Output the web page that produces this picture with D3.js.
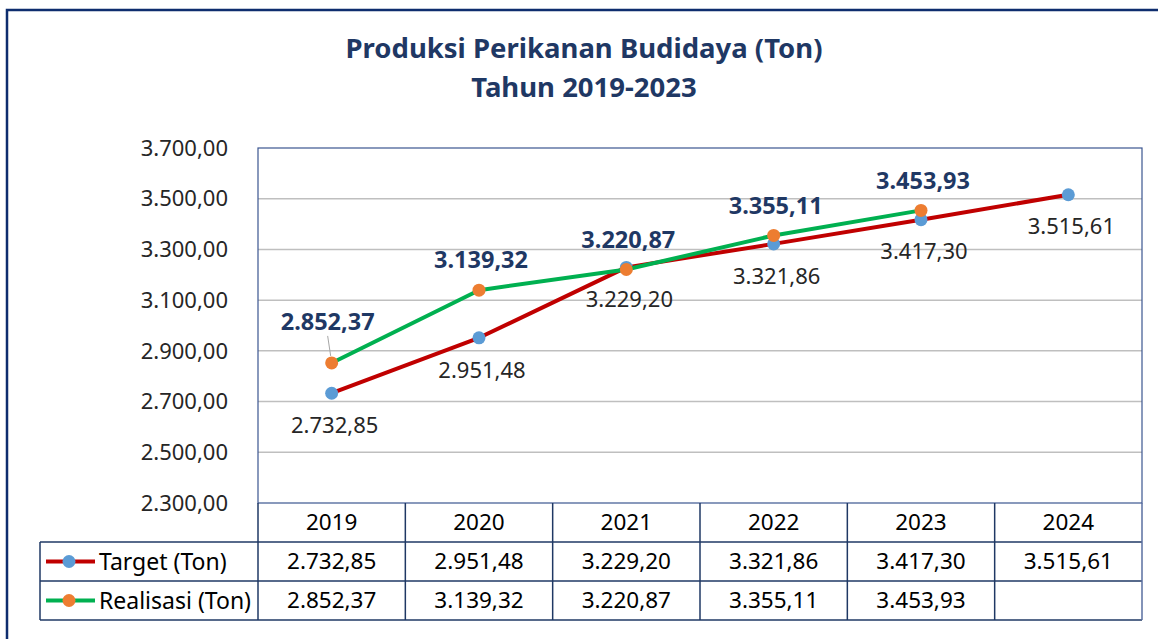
<!DOCTYPE html>
<html>
<head>
<meta charset="utf-8">
<script src="https://cdn.jsdelivr.net/npm/d3@7"></script>
<style>
  body { margin: 0; background: #fff; }
  svg { display: block; font-family: "Noto Sans", sans-serif; }
</style>
</head>
<body>
<svg id="chart"></svg>
<script>
const W = 1158, H = 639;

// data
const years = ["2019", "2020", "2021", "2022", "2023", "2024"];
const target = [2732.85, 2951.48, 3229.20, 3321.86, 3417.30, 3515.61];
const realisasi = [2852.37, 3139.32, 3220.87, 3355.11, 3453.93];
const yTicks = [2300, 2500, 2700, 2900, 3100, 3300, 3500, 3700];
const seriesNames = ["Target (Ton)", "Realisasi (Ton)"];
const titleLines = ["Produksi Perikanan Budidaya (Ton)", "Tahun 2019-2023"];

const navy = "#1f3864";
const textCol = "#262626";
const lineColors = ["#c00000", "#00b050"];
const markerColors = ["#5b9bd5", "#ed7d31"];

const idLocale = d3.formatLocale({ decimal: ",", thousands: ".", grouping: [3], currency: ["Rp", ""] });
const fmt = idLocale.format(",.2f");

const plot = { left: 258, right: 1142, top: 148, bottom: 503 };
const rowH = 39;

const svg = d3.select("#chart").attr("width", W).attr("height", H);

const x = d3.scaleBand().domain(years).range([plot.left, plot.right]);
const cx = d => x(d) + x.bandwidth() / 2;
const y = d3.scaleLinear().domain([2300, 3700]).range([plot.bottom, plot.top]);

// outer frame
svg.append("rect")
    .attr("x", 7).attr("y", 10)
    .attr("width", W + 20).attr("height", H + 20)
    .attr("fill", "none").attr("stroke", "#0e2d6e").attr("stroke-width", 2.5);

// title
svg.append("g").selectAll("text")
    .data(titleLines)
    .join("text")
    .attr("x", 584)
    .attr("y", (d, i) => 48 + i * 39)
    .attr("dy", "0.35em")
    .attr("text-anchor", "middle")
    .attr("font-size", 27.5)
    .attr("font-weight", "bold")
    .attr("fill", navy)
    .text(d => d);

// gridlines
svg.append("g").selectAll("line")
    .data(yTicks.slice(1, -1))
    .join("line")
    .attr("x1", plot.left).attr("x2", plot.right)
    .attr("y1", d => y(d)).attr("y2", d => y(d))
    .attr("stroke", "#bfbfbf").attr("stroke-width", 1.5);

// y tick labels
svg.append("g").selectAll("text")
    .data(yTicks)
    .join("text")
    .attr("x", 228)
    .attr("y", d => y(d))
    .attr("dy", "0.35em")
    .attr("text-anchor", "end")
    .attr("font-size", 22)
    .attr("fill", textCol)
    .text(d => fmt(d));

// plot frame
svg.append("rect")
    .attr("x", plot.left).attr("y", plot.top)
    .attr("width", plot.right - plot.left).attr("height", plot.bottom - plot.top)
    .attr("fill", "none").attr("stroke", "#3b5590").attr("stroke-width", 1.2);

// data table
const table = svg.append("g");
const tLeft = 40;
const tBottom = plot.bottom + rowH * 3;

// horizontal lines
[plot.bottom + rowH, plot.bottom + rowH * 2, tBottom].forEach(yy => {
    table.append("line")
        .attr("x1", tLeft).attr("x2", plot.right)
        .attr("y1", yy).attr("y2", yy)
        .attr("stroke", navy).attr("stroke-width", 1.5);
});
// vertical lines
table.append("line")
    .attr("x1", tLeft).attr("x2", tLeft)
    .attr("y1", plot.bottom + rowH).attr("y2", tBottom)
    .attr("stroke", navy).attr("stroke-width", 1.5);
table.selectAll(".vsep")
    .data(years)
    .join("line")
    .attr("class", "vsep")
    .attr("x1", d => x(d)).attr("x2", d => x(d))
    .attr("y1", plot.bottom).attr("y2", tBottom)
    .attr("stroke", navy).attr("stroke-width", 1.5);
table.append("line")
    .attr("x1", plot.right).attr("x2", plot.right)
    .attr("y1", plot.bottom).attr("y2", tBottom)
    .attr("stroke", "#5a6fa0").attr("stroke-width", 1.5);

// header years
table.selectAll(".yr")
    .data(years)
    .join("text")
    .attr("class", "yr")
    .attr("x", d => cx(d))
    .attr("y", plot.bottom + rowH / 2)
    .attr("dy", "0.35em")
    .attr("text-anchor", "middle")
    .attr("font-size", 22.5)
    .attr("fill", "#000")
    .text(d => d);

// table rows
[target, realisasi].forEach((vals, r) => {
    const rowY = plot.bottom + rowH * (r + 1) + rowH / 2;
    table.append("g").selectAll("text")
        .data(vals)
        .join("text")
        .attr("x", (d, i) => cx(years[i]))
        .attr("y", rowY)
        .attr("dy", "0.35em")
        .attr("text-anchor", "middle")
        .attr("font-size", 22.5)
        .attr("fill", "#000")
        .text(d => fmt(d));

    // legend key
    table.append("line")
        .attr("x1", 46).attr("x2", 95)
        .attr("y1", rowY).attr("y2", rowY)
        .attr("stroke", lineColors[r]).attr("stroke-width", 4);
    table.append("circle")
        .attr("cx", 69).attr("cy", rowY).attr("r", 6.5)
        .attr("fill", markerColors[r]);
    table.append("text")
        .attr("x", 99).attr("y", rowY)
        .attr("dy", "0.35em")
        .attr("font-size", 23)
        .attr("fill", "#000")
        .text(seriesNames[r]);
});

// series
const line = d3.line()
    .x((d, i) => cx(years[i]))
    .y(d => y(d));

[target, realisasi].forEach((vals, s) => {
    svg.append("path")
        .datum(vals)
        .attr("d", line)
        .attr("fill", "none")
        .attr("stroke", lineColors[s])
        .attr("stroke-width", 4)
        .attr("stroke-linejoin", "round");
    svg.append("g").selectAll("circle")
        .data(vals)
        .join("circle")
        .attr("cx", (d, i) => cx(years[i]))
        .attr("cy", d => y(d))
        .attr("r", 6.5)
        .attr("fill", markerColors[s]);
});

// target labels (below points)
svg.append("g").selectAll("text")
    .data(target)
    .join("text")
    .attr("x", (d, i) => cx(years[i]) + 3)
    .attr("y", d => y(d) + 32)
    .attr("dy", "0.35em")
    .attr("text-anchor", "middle")
    .attr("font-size", 22)
    .attr("fill", textCol)
    .text(d => fmt(d));

// realisasi labels (above points, first one pushed up with a leader)
const realDy = i => i === 0 ? -41 : -30;
svg.append("line")
    .attr("x1", cx(years[0]) - 1).attr("y1", y(realisasi[0]) - 7)
    .attr("x2", cx(years[0]) - 4).attr("y2", y(realisasi[0]) + realDy(0) + 14)
    .attr("stroke", "#a6a6a6").attr("stroke-width", 1);
svg.append("g").selectAll("text")
    .data(realisasi)
    .join("text")
    .attr("x", (d, i) => cx(years[i]) + (i === 0 ? -4 : 2))
    .attr("y", (d, i) => y(d) + realDy(i))
    .attr("dy", "0.35em")
    .attr("text-anchor", "middle")
    .attr("font-size", 23.5)
    .attr("font-weight", "bold")
    .attr("fill", navy)
    .text(d => fmt(d));
</script>
</body>
</html>
